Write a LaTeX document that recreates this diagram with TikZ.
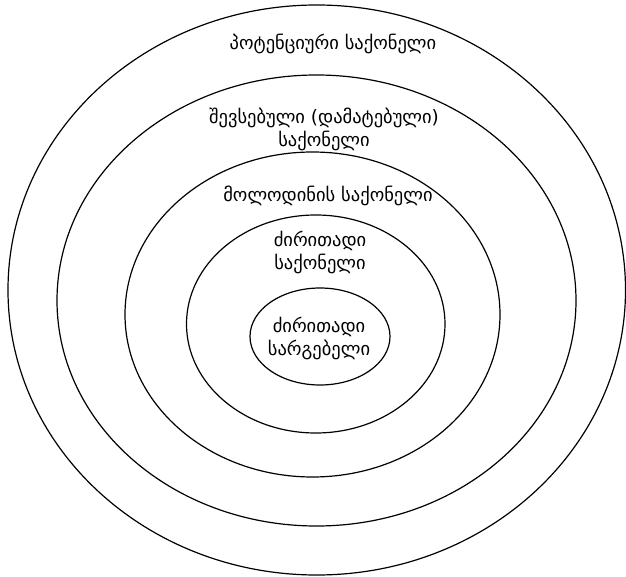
\documentclass[tikz,border=0pt]{standalone}
\usepackage{fontspec}
\newfontfamily\geofont{DejaVu Sans}
\usetikzlibrary{shapes.geometric}
\tikzset{
  ring/.style={ellipse, draw=black, line width=1.2pt, inner sep=0pt, outer sep=0pt},
  lbl/.style={align=center, inner sep=0pt, font=\geofont\fontsize{18.5}{23}\selectfont}
}
\begin{document}
\begin{tikzpicture}[x=1pt,y=-1pt]
\useasboundingbox (0,0) rectangle (626,577);
\node[ring, minimum width=617.5pt, minimum height=570pt] (e1) at (316.75,290) {};
\node[ring, minimum width=519pt, minimum height=451pt] (e2) at (316.5,300.5) {};
\node[ring, minimum width=375pt, minimum height=325pt] (e3) at (312.5,314.5) {};
\node[ring, minimum width=258.5pt, minimum height=218pt] (e4) at (315.75,324) {};
\node[ring, minimum width=140pt, minimum height=97pt] (e5) at (320,336.5) {};
\node[lbl] (t1) at (333,44) {პოტენციური საქონელი};
\node[lbl] (t2) at (324,129) {შევსებული (დამატებული)\\საქონელი};
\node[lbl] (t3) at (328,196) {მოლოდინის საქონელი};
\node[lbl] (t4) at (320,252) {ძირითადი\\საქონელი};
\node[lbl] (t5) at (319,338) {ძირითადი\\სარგებელი};
\end{tikzpicture}
\end{document}
